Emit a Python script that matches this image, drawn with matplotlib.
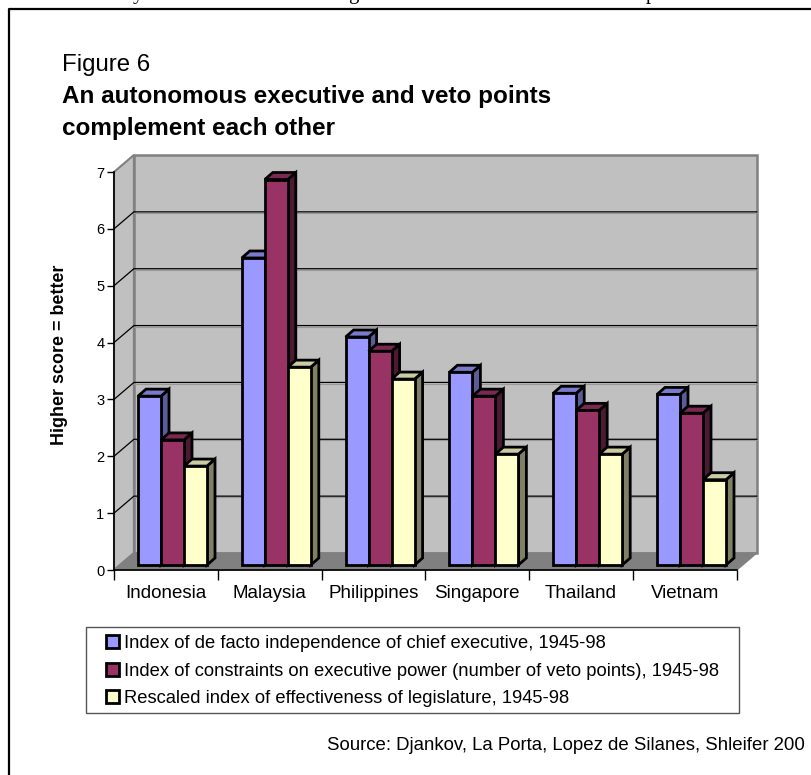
import numpy as np
import matplotlib
matplotlib.use('Agg')
import matplotlib.pyplot as plt
from matplotlib.patches import Polygon, Patch, Rectangle
from matplotlib.lines import Line2D

plt.rcParams['font.family'] = ['Liberation Sans', 'DejaVu Sans']

# values
countries = ['Indonesia', 'Malaysia', 'Philippines', 'Singapore', 'Thailand', 'Vietnam']
independence = [2.97, 5.40, 4.01, 3.39, 3.02, 3.00]
constraints = [2.20, 6.78, 3.76, 2.97, 2.72, 2.67]
legislature = [1.74, 3.48, 3.27, 1.95, 1.95, 1.50]
series_names = ['Index of de facto independence of chief executive, 1945-98',
                'Index of constraints on executive power (number of veto points), 1945-98',
                'Rescaled index of effectiveness of legislature, 1945-98']
y_ticks = [0, 1, 2, 3, 4, 5, 6, 7]

W, H = 811, 775
fig = plt.figure(figsize=(W / 100, H / 100), dpi=100)

def fx(px):
    return px / W

def fy(py):
    return 1 - py / H

# the axes is the front plane of the 3d box
x0, x1, y0, y7 = 114, 736.8, 570, 172
ax = fig.add_axes([fx(x0), fy(y0), fx(x1 - x0), fy(y7) - fy(y0)])
ax.set_xlim(0, 6)
ax.set_ylim(0, 7)
ax.patch.set_visible(False)
px_x = (x1 - x0) / 6
px_y = (y0 - y7) / 7

# depth of the box and of the bars, in data units
dx = 19.9 / px_x
dy = 17 / px_y
bar_w = 23 / px_x
bar_dx = 8 / px_x
bar_dy = 7 / px_y
group_left = 24 / px_x
bar_base = 5 / px_y

wall = '#C0C0C0'
floor = '#808080'

# walls and floor
ax.add_patch(Polygon([(0, 0), (0, 7), (dx, 7 + dy), (dx, dy)], closed=True, fc=wall, ec=floor,
                     lw=1.5, clip_on=False, zorder=1))
ax.add_patch(Polygon([(dx, dy), (dx, 7 + dy), (6 + dx, 7 + dy), (6 + dx, dy)], closed=True, fc=wall, ec=floor,
                     lw=1.8, clip_on=False, zorder=1))
ax.add_patch(Polygon([(0, 0), (6, 0), (6 + dx, dy), (dx, dy)], closed=True, fc=floor, ec=floor,
                     lw=1, clip_on=False, zorder=1.5))

# gridlines
for v in y_ticks[1:-1]:
    ax.plot([0, dx, 6 + dx], [v, v + dy, v + dy], color='black', lw=0.9, clip_on=False, zorder=2)
    ax.plot([dx, 6 + dx], [v + dy - 0.02, v + dy - 0.02], color='#999999', lw=0.8, clip_on=False, zorder=1.8)

# bars: front face, then top and side
series = [independence, constraints, legislature]
fronts = ['#9999FF', '#993366', '#FFFFCC']
tops = ['#7A7ACC', '#7A2952', '#CCCCA3']
sides = ['#5C5C99', '#4D1A33', '#808066']
z = 3
for g in range(len(countries)):
    for s in range(3):
        v = series[s][g]
        left = g + group_left + s * bar_w
        right = left + bar_w
        top = bar_base + v
        ax.add_patch(Polygon([(right, bar_base), (right, top), (right + bar_dx, top + bar_dy),
                              (right + bar_dx, bar_base + bar_dy)], closed=True, fc=sides[s], ec='black',
                             lw=2, clip_on=False, zorder=z))
        ax.add_patch(Polygon([(left, top), (right, top), (right + bar_dx, top + bar_dy),
                              (left + bar_dx, top + bar_dy)], closed=True, fc=tops[s], ec='black',
                             lw=2, clip_on=False, zorder=z))
        ax.bar(left, v, width=bar_w, bottom=bar_base, align='edge', color=fronts[s], edgecolor='black',
               linewidth=2, clip_on=False, zorder=z + 0.5)
        z += 1

# axes lines and ticks
for name in ['top', 'right']:
    ax.spines[name].set_visible(False)
ax.spines['left'].set_linewidth(1.2)
ax.spines['bottom'].set_linewidth(1.2)
ax.spines['left'].set_zorder(50)
ax.spines['bottom'].set_zorder(50)
ax.set_yticks(y_ticks)
ax.tick_params(axis='y', length=5, width=1, labelsize=10.5, pad=2)
ax.set_xticks(range(7))
ax.set_xticklabels([])
ax.tick_params(axis='x', which='major', length=7, width=1)
ax.set_xticks(np.arange(6) + 0.5, minor=True)
ax.set_xticklabels(countries, minor=True, fontsize=13.5)
ax.tick_params(axis='x', which='minor', length=0, pad=10.5)

# outer frame, runs off the picture at right and bottom
fig.add_artist(Line2D([fx(9), fx(9), 1], [0, fy(9), fy(9)], color='black', lw=1.6))

# clipped line of page text above the frame
for px, ch in [(138, 'y'), (353, 'g'), (651, 'p')]:
    fig.text(fx(px), fy(-1), ch, family='Liberation Serif', fontsize=15, ha='center', va='baseline')

# titles
fig.text(fx(62), fy(71.5), 'Figure 6', fontsize=17.3, va='baseline')
fig.text(fx(62), fy(102.5), 'An autonomous executive and veto points', fontsize=17.5, fontweight='bold', va='baseline')
fig.text(fx(62), fy(134.5), 'complement each other', fontsize=17.5, fontweight='bold', va='baseline')
fig.text(fx(60), fy(355), 'Higher score = better', fontsize=12.9, fontweight='bold', rotation=90,
         ha='center', va='center')

# legend
fig.add_artist(Rectangle((fx(85.5), fy(712.5)), fx(738.5 - 85.5), fy(627) - fy(712.5), fc='white', ec='#555555',
                         lw=1, transform=fig.transFigure))
handles = [Patch(fc=c, ec='black', lw=2) for c in fronts]
fig.legend(handles, series_names, loc='upper left', bbox_to_anchor=(fx(106), fy(635)), frameon=False,
           fontsize=13.27, handlelength=0.7, handleheight=0.7, handletextpad=0.28, labelspacing=0.58,
           borderpad=0, borderaxespad=0)

fig.text(fx(805), fy(750), 'Source: Djankov, La Porta, Lopez de Silanes, Shleifer 200', fontsize=13.4, ha='right',
         va='baseline')

fig.savefig('out.png', dpi=100)
